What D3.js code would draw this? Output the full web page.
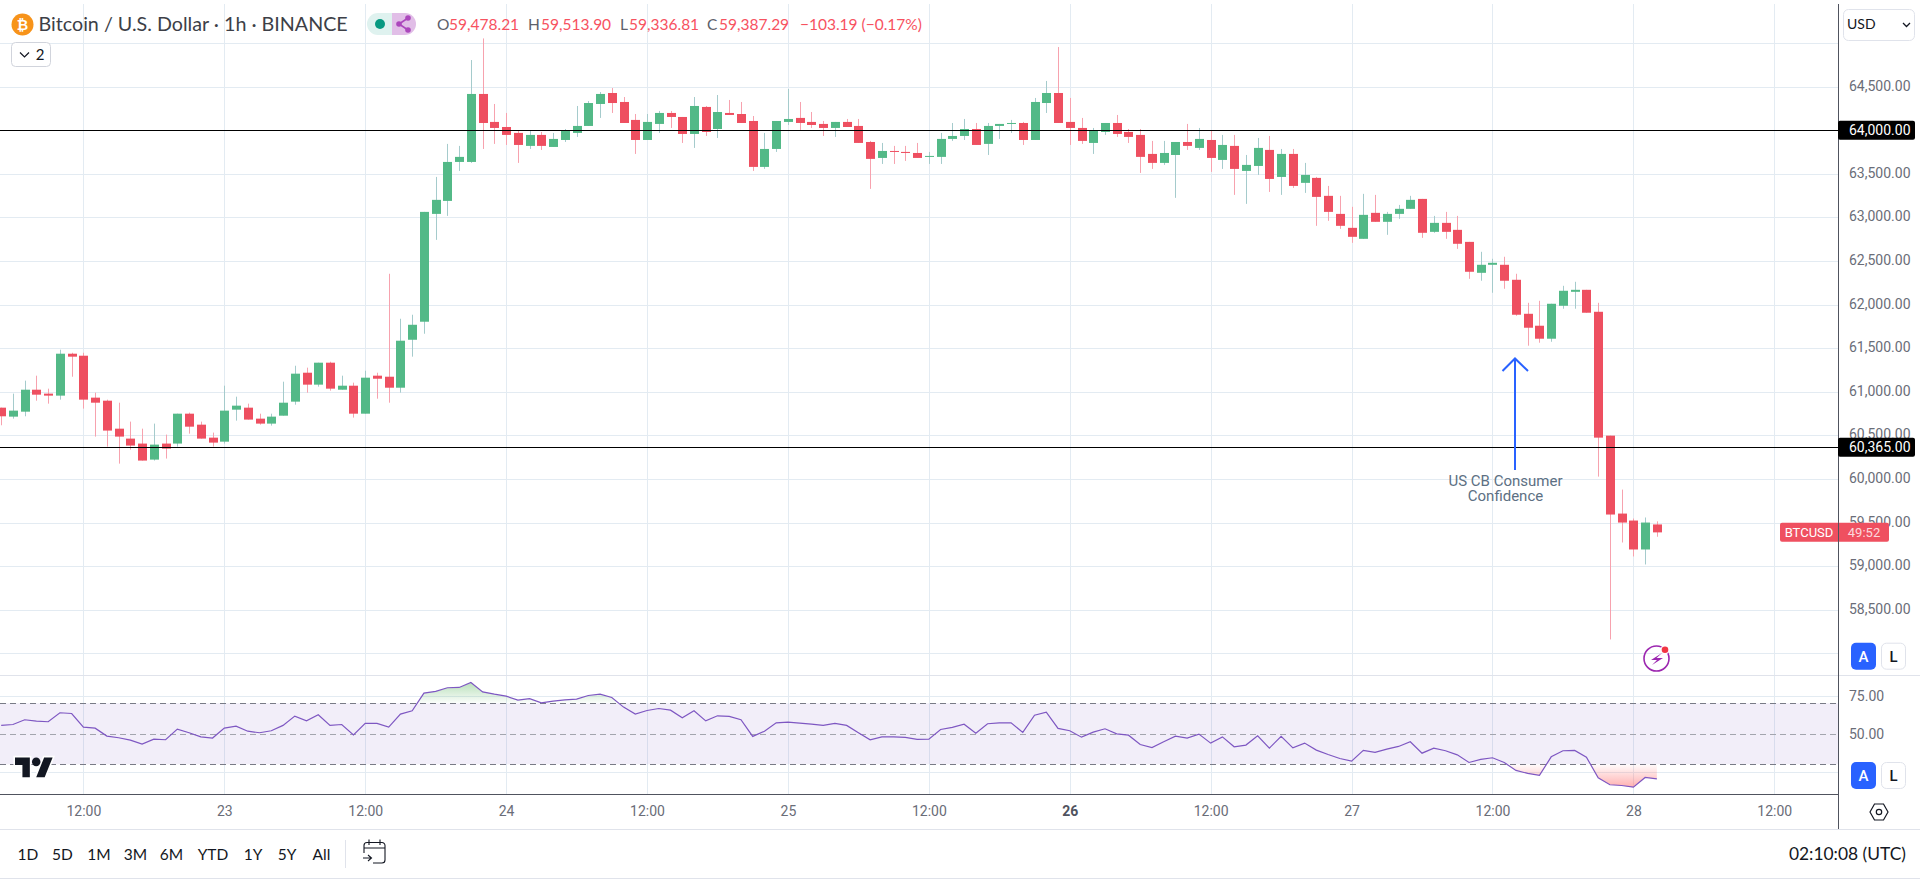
<!DOCTYPE html>
<html>
<head>
<meta charset="utf-8">
<title>BTCUSD 1h</title>
<script src="https://cdn.jsdelivr.net/npm/d3@7"></script>
<style>
    html, body { margin: 0; padding: 0; background: #fff; overflow: hidden; }
    svg { display: block; }
    text { font-family: Roboto, sans-serif; }
    .axis path, .axis line { display: none; }
    .axis text { font-size: 14px; fill: #6a6d78; }
    .head { font-family: Lato, sans-serif; }
    .range { font-family: Lato, sans-serif; font-size: 15.5px; fill: #131722; text-anchor: middle; }
</style>
</head>
<body>
<div id="chart"></div>
<script>
// hourly candles, first one is 7h before the 22nd 12:00
var firstHour = -7;

var opens = [
    60818,60715,60772,61024,60979,60956,61437,
    61414,60933,60898,60577,60463,60406,60222,60406,60406,60749,60623,60474,
    60428,60795,60818,60692,60635,60726,60887,61219,61082,61334,61024,61070,
    60749,61185,61173,61047,61597,61804,63041,63190,63637,63637,64417,64096,
    64038,63970,63821,63947,63809,63889,63970,64050,64302,64428,64325,64119,
    63889,64073,64199,64153,63958,64268,64015,64199,64187,64107,63580,63786,
    64096,64142,64096,64073,64027,64096,64050,63866,63683,63763,63752,63740,
    63695,63695,63901,63935,64015,63844,64050,64073,64084,63889,64313,64428,
    64096,64027,63855,63981,64084,63981,63947,63729,63626,63717,63866,63798,
    63889,63660,63821,63534,63591,63775,63465,63729,63397,63454,63248,63041,
    62881,62755,63053,62950,63041,63099,63213,62835,62938,62858,62720,62365,
    62457,62457,62285,61895,61758,61609,61987,62147,62170,61918,60497,59603,
    59523,59191,59478.21
];

var highs = [
    60818,60979,61128,61185,61036,61483,61448,
    61448,60990,60910,60875,60658,60577,60635,60509,60749,60761,60658,60532,
    61070,60944,60864,60749,60749,61116,61299,61277,61334,61345,61185,61105,
    61242,61219,62354,61838,61884,63064,63465,63844,63821,64806,65054,64302,
    64199,63993,63993,63981,63970,64015,64279,64336,64439,64485,64382,64187,
    64187,64222,64222,64153,64382,64279,64405,64348,64325,64164,63970,64107,
    64474,64325,64210,64107,64096,64130,64130,63878,63855,63821,63821,63855,
    63752,63970,64084,64130,64084,64084,64073,64119,64096,64371,64566,64955,
    64371,64142,64027,64084,64176,64015,64015,63878,63878,63866,64073,64027,
    63993,63947,63947,63717,63912,63935,63786,63786,63626,63465,63362,63248,
    63122,63271,63259,63064,63144,63248,63213,63018,63064,63018,62720,62606,
    62526,62549,62354,62021,62044,62010,62216,62262,62170,62021,60497,59878,
    59546,59558,59513.90
];

var lows = [
    60616,60692,60719,60898,60864,60910,61173,
    60807,60486,60371,60176,60337,60211,60211,60234,60371,60520,60463,60371,
    60406,60669,60681,60623,60612,60726,60852,60990,61059,61013,61024,60704,
    60749,60921,60875,60990,61403,61666,62743,63018,63534,63626,63786,63844,
    63832,63626,63786,63775,63809,63866,63924,64050,64142,64199,64084,63729,
    63889,63970,64027,63855,63798,63935,63912,64176,64084,63534,63557,63752,
    64061,64004,64027,63935,63924,64038,63855,63328,63614,63614,63649,63683,
    63614,63614,63878,63889,63832,63717,63901,63970,63832,63889,64199,64084,
    63832,63844,63729,63947,63924,63855,63511,63557,63603,63225,63775,63775,
    63523,63557,63259,63156,63488,63293,63259,63339,63282,62904,62961,62869,
    62709,62755,62950,62801,62984,63099,62766,62824,62755,62640,62296,62274,
    62136,62182,61872,61529,61563,61574,61953,61953,61907,60027,58159,59271,
    59111,59019,59336.81
];

var closes = [
    60719,60784,61024,60967,60956,61437,61403,
    60910,60875,60555,60486,60383,60211,60394,60348,60749,60600,60463,60417,
    60784,60841,60681,60635,60715,60875,61208,61082,61334,61036,61070,60749,
    61162,61150,61047,61586,61769,63064,63202,63637,63695,64417,64084,64027,
    63947,63832,63947,63821,63901,63993,64050,64313,64417,64313,64084,63889,
    64096,64199,64153,63958,64279,63981,64210,64176,64084,63580,63786,64107,
    64130,64084,64061,64027,64096,64038,63855,63672,63763,63752,63740,63683,
    63706,63901,63935,64015,63832,64050,64073,64084,63889,64325,64428,64084,
    64027,63878,63993,64084,63958,63924,63695,63626,63740,63866,63821,63901,
    63683,63832,63557,63603,63798,63442,63729,63362,63488,63236,63064,62904,
    62778,63030,62950,63041,63099,63202,62824,62938,62835,62698,62377,62457,
    62480,62274,61884,61735,61609,62010,62159,62170,61907,60474,59592,59500,
    59191,59500,59387.29
];

var rsiValues = [
    55.5,56.1,59.2,58.3,57.9,63.8,63.3,
    54.4,53.7,48.5,47.4,45.8,43.2,46.5,46.1,53.1,50.7,48.0,47.2,
    53.7,55.0,51.7,50.7,52.0,55.5,61.6,58.5,62.5,55.5,56.1,49.3,
    56.8,56.8,54.4,62.9,65.1,76.7,77.8,80.2,80.4,83.7,77.5,76.0,
    74.7,72.1,73.0,70.3,71.4,72.3,72.7,75.1,76.0,73.8,67.5,62.9,
    65.3,66.6,65.5,60.5,65.1,58.5,61.8,61.4,59.2,48.3,51.7,57.2,
    57.7,57.0,56.3,55.5,56.8,55.5,50.7,46.1,48.0,48.0,47.6,46.3,
    46.5,52.8,54.2,56.3,50.4,56.6,57.2,57.2,50.9,62.2,64.2,53.5,
    52.0,47.8,51.1,53.3,50.0,49.1,43.0,41.0,44.8,48.5,47.2,49.8,
    43.9,48.0,41.5,42.6,48.7,40.6,48.3,40.8,43.9,39.3,36.4,33.8,
    32.1,39.1,37.8,39.9,41.7,44.8,37.3,40.6,38.9,36.2,31.2,33.2,
    34.3,31.2,26.0,24.0,22.7,34.9,38.9,39.1,34.7,21.1,16.6,16.1,
    15.0,21.4,20.5
];

var gridPrices = [65000,64500,64000,63500,63000,62500,62000,61500,61000,60500,60000,59500,59000,58500,58000];
var priceLabels = [64500,63500,63000,62500,62000,61500,61000,60500,60000,59500,59000,58500];
var levelPrices = [64000, 60365];
var rsiGrid = [75, 25];
var rsiLabels = [75, 50];
var rsiBands = [70, 50, 30];

var timeHours = [0,12,24,36,48,60,72,84,96,108,120,132,144];
var timeLabels = ["12:00","23","12:00","24","12:00","25","12:00","26","12:00","27","12:00","28","12:00"];

var rangeLabels = ["1D","5D","1M","3M","6M","YTD","1Y","5Y","All"];
var ohlcLabels = ["O","H","L","C"];
var ohlcValues = ["59,478.21","59,513.90","59,336.81","59,387.29"];

var candles = opens.map(function (o, i) {
    return { hour: firstHour + i, open: o, high: highs[i], low: lows[i], close: closes[i], rsi: rsiValues[i] };
});

var width = 1920, height = 879;
var axisX = 1838;
var paneTop = 4, priceBottom = 675, rsiBottom = 794, timeBottom = 829;

var upBody = "#53b987", downBody = "#ee4f60", upWick = "#a5cbcc", downWick = "#f7a2ae";
var gridColor = "#e3ebf2";

var svg = d3.select("#chart").append("svg")
    .attr("width", width)
    .attr("height", height);

var defs = svg.append("defs");

var x = d3.scaleLinear().domain([0, 132]).range([83.4, 1633.4]);
var y = d3.scaleLinear().domain([64000, 58000]).range([130.3, 653.3]);
var rsiY = d3.scaleLinear().domain([70, 30]).range([703.3, 764.3]);

// gridlines
svg.append("g").selectAll("line").data(timeHours).enter().append("line")
    .attr("x1", function (d) { return Math.round(x(d)) + 0.5; })
    .attr("x2", function (d) { return Math.round(x(d)) + 0.5; })
    .attr("y1", paneTop)
    .attr("y2", rsiBottom)
    .attr("stroke", gridColor);

svg.append("g").selectAll("line").data(gridPrices).enter().append("line")
    .attr("x1", 0)
    .attr("x2", axisX)
    .attr("y1", function (d) { return Math.round(y(d)) + 0.5; })
    .attr("y2", function (d) { return Math.round(y(d)) + 0.5; })
    .attr("stroke", gridColor);

// rsi pane background
svg.append("rect")
    .attr("x", 0)
    .attr("width", axisX)
    .attr("y", rsiY(70))
    .attr("height", rsiY(30) - rsiY(70))
    .attr("fill", "#7e57c2")
    .attr("fill-opacity", 0.1);

svg.append("g").selectAll("line").data(rsiGrid).enter().append("line")
    .attr("x1", 0)
    .attr("x2", axisX)
    .attr("y1", function (d) { return Math.round(rsiY(d)) + 0.5; })
    .attr("y2", function (d) { return Math.round(rsiY(d)) + 0.5; })
    .attr("stroke", gridColor);

svg.append("g").selectAll("line").data(rsiBands).enter().append("line")
    .attr("x1", 0)
    .attr("x2", axisX)
    .attr("y1", function (d) { return Math.round(rsiY(d)) + 0.5; })
    .attr("y2", function (d) { return Math.round(rsiY(d)) + 0.5; })
    .attr("stroke", function (d) { return d == 50 ? "#a3a5ae" : "#787b86"; })
    .attr("stroke-dasharray", "6,4");

// rsi over/under fills
var upGrad = defs.append("linearGradient").attr("id", "rsiUp")
    .attr("gradientUnits", "userSpaceOnUse")
    .attr("x1", 0).attr("x2", 0)
    .attr("y1", rsiY(84)).attr("y2", rsiY(70));
upGrad.append("stop").attr("offset", 0).attr("stop-color", "#4caf50").attr("stop-opacity", 0.4);
upGrad.append("stop").attr("offset", 1).attr("stop-color", "#4caf50").attr("stop-opacity", 0.02);

var downGrad = defs.append("linearGradient").attr("id", "rsiDown")
    .attr("gradientUnits", "userSpaceOnUse")
    .attr("x1", 0).attr("x2", 0)
    .attr("y1", rsiY(30)).attr("y2", rsiY(15));
downGrad.append("stop").attr("offset", 0).attr("stop-color", "#ff5252").attr("stop-opacity", 0.02);
downGrad.append("stop").attr("offset", 1).attr("stop-color", "#ff5252").attr("stop-opacity", 0.45);

defs.append("clipPath").attr("id", "clipUp").append("rect")
    .attr("x", 0).attr("width", axisX)
    .attr("y", priceBottom).attr("height", rsiY(70) - priceBottom);
defs.append("clipPath").attr("id", "clipDown").append("rect")
    .attr("x", 0).attr("width", axisX)
    .attr("y", rsiY(30)).attr("height", rsiBottom - rsiY(30));

function levelArea(level) {
    return d3.area()
        .x(function (d) { return x(d.hour); })
        .y0(rsiY(level))
        .y1(function (d) { return rsiY(d.rsi); });
}

svg.append("path")
    .attr("d", levelArea(70)(candles))
    .attr("fill", "url(#rsiUp)")
    .attr("clip-path", "url(#clipUp)");

svg.append("path")
    .attr("d", levelArea(30)(candles))
    .attr("fill", "url(#rsiDown)")
    .attr("clip-path", "url(#clipDown)");

var rsiLine = d3.line()
    .x(function (d) { return x(d.hour); })
    .y(function (d) { return rsiY(d.rsi); });

svg.append("path")
    .attr("d", rsiLine(candles))
    .attr("fill", "none")
    .attr("stroke", "#7e57c2")
    .attr("stroke-width", 1.2);

// candles
var candleG = svg.append("g").selectAll("g").data(candles).enter().append("g");

candleG.append("line")
    .attr("x1", function (d) { return Math.round(x(d.hour)) + 0.5; })
    .attr("x2", function (d) { return Math.round(x(d.hour)) + 0.5; })
    .attr("y1", function (d) { return y(d.high); })
    .attr("y2", function (d) { return y(d.low); })
    .attr("stroke", function (d) { return d.close >= d.open ? upWick : downWick; });

candleG.append("rect")
    .attr("x", function (d) { return Math.round(x(d.hour)) - 4; })
    .attr("width", 9)
    .attr("y", function (d) { return y(Math.max(d.open, d.close)); })
    .attr("height", function (d) { return Math.max(1, Math.abs(y(d.open) - y(d.close))); })
    .attr("fill", function (d) { return d.close >= d.open ? upBody : downBody; });

// horizontal levels
svg.append("g").selectAll("line").data(levelPrices).enter().append("line")
    .attr("x1", 0)
    .attr("x2", axisX)
    .attr("y1", function (d) { return Math.round(y(d)) + 0.5; })
    .attr("y2", function (d) { return Math.round(y(d)) + 0.5; })
    .attr("stroke", "#000");

// arrow + note
svg.append("path")
    .attr("d", "M1515,470V359M1502.5,371L1515,358.5L1528,371")
    .attr("fill", "none")
    .attr("stroke", "#2962ff")
    .attr("stroke-width", 2);

svg.append("text")
    .attr("text-anchor", "middle")
    .attr("font-size", 15)
    .attr("fill", "#5d7083")
    .selectAll("tspan").data(["US CB Consumer", "Confidence"]).enter().append("tspan")
    .attr("x", 1505.5)
    .attr("y", function (d, i) { return 486 + i * 15; })
    .text(function (d) { return d; });

// pane frame lines
function rule(x1, y1, x2, y2, color) {
    svg.append("line")
        .attr("x1", x1).attr("y1", y1)
        .attr("x2", x2).attr("y2", y2)
        .attr("stroke", color);
}
rule(0, priceBottom + 0.5, width, priceBottom + 0.5, "#e0e3eb");
rule(0, timeBottom + 0.5, width, timeBottom + 0.5, "#e0e3eb");
rule(0, 878.5, width, 878.5, "#e0e3eb");
rule(0, rsiBottom + 0.5, axisX, rsiBottom + 0.5, "#50535e");
rule(axisX + 0.5, paneTop, axisX + 0.5, timeBottom, "#50535e");

// axes
var priceAxis = d3.axisRight(y)
    .tickValues(priceLabels)
    .tickSize(0)
    .tickPadding(11)
    .tickFormat(d3.format(",.2f"));

svg.append("g")
    .attr("class", "axis")
    .attr("transform", "translate(" + axisX + ",-1)")
    .call(priceAxis);

var rsiAxis = d3.axisRight(rsiY)
    .tickValues(rsiLabels)
    .tickSize(0)
    .tickPadding(11)
    .tickFormat(d3.format(".2f"));

svg.append("g")
    .attr("class", "axis")
    .attr("transform", "translate(" + axisX + ",0)")
    .call(rsiAxis);

var timeAxis = d3.axisBottom(x)
    .tickValues(timeHours)
    .tickSize(0)
    .tickPadding(12)
    .tickFormat(function (d, i) { return timeLabels[i]; });

var timeG = svg.append("g")
    .attr("class", "axis")
    .attr("transform", "translate(0," + rsiBottom + ")")
    .call(timeAxis);

timeG.selectAll("text")
    .attr("font-weight", function (d, i) { return timeLabels[i] == "26" ? "bold" : null; })
    .style("fill", function (d, i) { return timeLabels[i] == "26" ? "#50535e" : null; });

// price tags
var tagG = svg.append("g").selectAll("g").data(levelPrices).enter().append("g");

tagG.append("rect")
    .attr("x", axisX)
    .attr("width", 77)
    .attr("y", function (d) { return y(d) - 9.5; })
    .attr("height", 19)
    .attr("rx", 2)
    .attr("fill", "#000");

tagG.append("text")
    .attr("x", axisX + 11)
    .attr("y", function (d) { return y(d); })
    .attr("dy", "0.35em")
    .attr("font-size", 14)
    .attr("fill", "#fff")
    .text(d3.format(",.2f"));

// last price tag
var lastY = y(closes[closes.length - 1]);

svg.append("rect")
    .attr("x", 1780)
    .attr("width", 109)
    .attr("y", lastY - 9.5)
    .attr("height", 19)
    .attr("rx", 2)
    .attr("fill", "#ef5060");

svg.append("line")
    .attr("x1", axisX + 0.5).attr("x2", axisX + 0.5)
    .attr("y1", lastY - 9.5).attr("y2", lastY + 9.5)
    .attr("stroke", "#50535e");

svg.append("text")
    .attr("x", 1809)
    .attr("y", lastY)
    .attr("dy", "0.35em")
    .attr("text-anchor", "middle")
    .attr("font-size", 13)
    .attr("fill", "#fff")
    .text("BTCUSD");

svg.append("text")
    .attr("x", 1864)
    .attr("y", lastY)
    .attr("dy", "0.35em")
    .attr("text-anchor", "middle")
    .attr("font-size", 13)
    .attr("fill", "#fff")
    .attr("fill-opacity", 0.8)
    .text("49:52");

// header
svg.append("circle").attr("cx", 22.5).attr("cy", 24.5).attr("r", 11).attr("fill", "#f7931a");
svg.append("text").attr("x", 22.5).attr("y", 29.5)
    .attr("text-anchor", "middle").attr("font-size", 14).attr("font-weight", "bold").attr("fill", "#fff")
    .text("₿");

svg.append("text")
    .attr("class", "head")
    .attr("x", 38.5)
    .attr("y", 31)
    .attr("font-size", 19.7)
    .attr("fill", "#3d3f47")
    .text("Bitcoin / U.S. Dollar · 1h · BINANCE");

// status pills
svg.append("path").attr("d", "M392,13H378a11,11 0 0 0 0,22H392Z").attr("fill", "#dff2ef");
svg.append("path").attr("d", "M392,13H405a11,11 0 0 1 0,22H392Z").attr("fill", "#e1bee7");
svg.append("circle").attr("cx", 380).attr("cy", 24).attr("r", 5).attr("fill", "#089981");
svg.append("path")
    .attr("d", "M408,18L399,24L408,30")
    .attr("fill", "none").attr("stroke", "#ab47bc").attr("stroke-width", 1.6);
svg.append("g").selectAll("circle").data([[408, 18], [399, 24], [408, 30]]).enter().append("circle")
    .attr("cx", function (d) { return d[0]; }).attr("cy", function (d) { return d[1]; })
    .attr("r", 2.8).attr("fill", "#ab47bc");

// ohlc legend
var ohlcLetterX = [437, 528, 620, 707];
var ohlcValueX = [449, 541, 629, 719];

svg.append("g").selectAll("text").data(ohlcLabels).enter().append("text")
    .attr("class", "head")
    .attr("x", function (d, i) { return ohlcLetterX[i]; })
    .attr("y", 30)
    .attr("font-size", 15.5)
    .attr("fill", "#5d606b")
    .text(function (d) { return d; });

svg.append("g").selectAll("text").data(ohlcValues).enter().append("text")
    .attr("class", "head")
    .attr("x", function (d, i) { return ohlcValueX[i]; })
    .attr("y", 30)
    .attr("font-size", 15.5)
    .attr("fill", "#f7525f")
    .text(function (d) { return d; });

svg.append("text")
    .attr("class", "head")
    .attr("x", 800)
    .attr("y", 30)
    .attr("font-size", 15.5)
    .attr("fill", "#f7525f")
    .text("−103.19 (−0.17%)");

// collapsed indicators button
svg.append("rect").attr("x", 11.5).attr("y", 42.5).attr("width", 39).attr("height", 24).attr("rx", 4)
    .attr("fill", "#fff").attr("stroke", "#d1d4dc");
svg.append("path").attr("d", "M20,52.5L24.5,57L29,52.5").attr("fill", "none").attr("stroke", "#131722").attr("stroke-width", 1.2);
svg.append("text").attr("class", "head").attr("x", 40).attr("y", 60)
    .attr("text-anchor", "middle").attr("font-size", 15).attr("fill", "#131722").text("2");

// currency button
svg.append("rect").attr("x", 1843.5).attr("y", 9.5).attr("width", 71).attr("height", 31).attr("rx", 5)
    .attr("fill", "#fff").attr("stroke", "#e0e3eb");
svg.append("text").attr("class", "head").attr("x", 1847).attr("y", 29)
    .attr("font-size", 14).attr("fill", "#131722").text("USD");
svg.append("path").attr("d", "M1903,23L1906.5,26.5L1910,23").attr("fill", "none").attr("stroke", "#131722").attr("stroke-width", 1.3);

// A / L buttons for the two panes
[642.7, 762].forEach(function (top) {
    svg.append("rect").attr("x", 1851).attr("y", top).attr("width", 25).attr("height", 27).attr("rx", 5)
        .attr("fill", "#2962ff");
    svg.append("text").attr("x", 1863.5).attr("y", top + 19).attr("text-anchor", "middle")
        .attr("font-size", 15).attr("font-weight", 500).attr("fill", "#fff").text("A");
    svg.append("rect").attr("x", 1881.5).attr("y", top + 0.5).attr("width", 24).attr("height", 26).attr("rx", 5)
        .attr("fill", "#fff").attr("stroke", "#e0e3eb");
    svg.append("text").attr("x", 1893.5).attr("y", top + 19).attr("text-anchor", "middle")
        .attr("font-size", 15).attr("font-weight", 500).attr("fill", "#131722").text("L");
});

// lightning badge
svg.append("circle").attr("cx", 1656.5).attr("cy", 658.5).attr("r", 12.5)
    .attr("fill", "none").attr("stroke", "#9c27b0").attr("stroke-width", 1.6);
svg.append("path").attr("d", "M1662,653L1651,660H1657L1652,665L1663,658H1656.5Z").attr("fill", "#9c27b0");
svg.append("circle").attr("cx", 1665).attr("cy", 649.7).attr("r", 4.5).attr("fill", "#fff");
svg.append("circle").attr("cx", 1665).attr("cy", 649.7).attr("r", 3.3).attr("fill", "#f23645");

// tradingview mark
svg.append("g")
    .attr("transform", "translate(15,753) scale(1.06,1.1)")
    .call(function (g) {
        g.append("path").attr("d", "M14 22H7V11H0V4h14v18zM28 22h-8l7.5-18h8L28 22z")
            .attr("fill", "#131722").attr("stroke", "#fff").attr("stroke-width", 3).attr("paint-order", "stroke");
        g.append("circle").attr("cx", 20).attr("cy", 8).attr("r", 4).attr("fill", "#131722");
    });

// settings hexagon
svg.append("path").attr("d", "M1870,812L1874.5,804H1883.5L1888,812L1883.5,820H1874.5Z")
    .attr("fill", "none").attr("stroke", "#131722").attr("stroke-width", 1.2);
svg.append("circle").attr("cx", 1879).attr("cy", 812).attr("r", 2.7)
    .attr("fill", "none").attr("stroke", "#131722").attr("stroke-width", 1.2);

// bottom toolbar
var rangeX = [28, 62.5, 99, 135.5, 171.5, 213, 253, 287, 321.5];

svg.append("g").selectAll("text").data(rangeLabels).enter().append("text")
    .attr("class", "range")
    .attr("x", function (d, i) { return rangeX[i]; })
    .attr("y", 860)
    .text(function (d) { return d; });

rule(345.5, 840, 345.5, 868, "#e0e3eb");

svg.append("path")
    .attr("d", "M364,853V845.5a3,3 0 0 1 3,-3H382a3,3 0 0 1 3,3V860a3,3 0 0 1 -3,3H373M364,848H385M369,839.5V845M380,839.5V845M363,858H371M368,855L371.5,858L368,861")
    .attr("fill", "none")
    .attr("stroke", "#131722")
    .attr("stroke-width", 1.1);

svg.append("text")
    .attr("class", "head")
    .attr("x", 1906)
    .attr("y", 860)
    .attr("text-anchor", "end")
    .attr("font-size", 17.4)
    .attr("fill", "#131722")
    .text("02:10:08 (UTC)");
</script>
</body>
</html>
